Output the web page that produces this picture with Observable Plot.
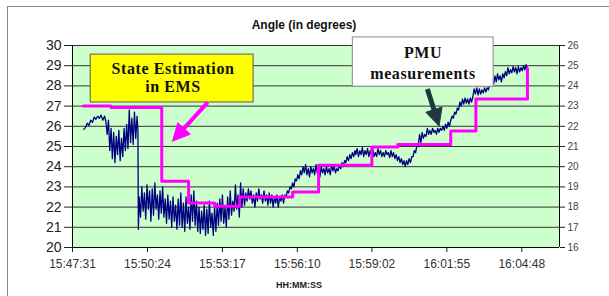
<!DOCTYPE html>
<html><head><meta charset="utf-8">
<script src="https://cdn.jsdelivr.net/npm/d3@7"></script>
<script src="https://cdn.jsdelivr.net/npm/@observablehq/plot@0.6"></script>
<style>
body{margin:0;background:#fff;width:609px;height:296px;overflow:hidden;position:relative;font-family:Arial,"Liberation Sans",sans-serif}
#frame{position:absolute;left:7px;top:6px;width:700px;height:400px;border:1px solid #8a8a8a;box-sizing:border-box}
#chart{position:absolute;left:0;top:0}
</style></head><body><div id="frame"></div><div id="chart"></div>
<script>
const title = "Angle (in degrees)";
const xLabel = "HH:MM:SS";
const tickLabels = ["15:47:31","15:50:24","15:53:17","15:56:10","15:59:02","16:01:55","16:04:48"];
const xEndLabel = "16:06:15";
const leftTicks = [20,21,22,23,24,25,26,27,28,29,30];
const rightTicks = [16,17,18,19,20,21,22,23,24,25,26];
const rightOffset = 4;

// State estimation (EMS) step values: seconds after 15:47:31, angle
const seTimes = [25, 89, 206, 268, 328, 386, 508, 568, 691, 751, 873, 931, 1050];
const seValues = [27.0, 26.93, 23.28, 22.2, 22.04, 22.5, 22.75, 24.07, 24.98, 25.1, 25.77, 27.35, 28.87];

// PMU measurements: [seconds after 15:47:31, angle]
const pmuSamples = [
[26,25.85],[30,25.95],[34,26.15],[38,26.05],[42,26.3],[46,26.2],[50,26.45],[54,26.35],[58,26.5],[62,26.4],[66,26.55],[70,26.3],[74,26.5],[77,26.25],
[80,25.6],[83,26.3],[86,24.8],[89,25.9],[92,24.4],[95,25.7],[98,24.2],[101,25.5],[104,24.6],[107,25.8],[110,24.3],[113,25.4],[116,24.5],[119,25.9],[122,24.8],[125,26.1],[128,24.9],[131,26.8],[134,25.2],[137,26.4],[140,25.1],[143,26.7],[146,25.4],[149,26.5],[151,25.8],
[152,20.9],
[154,22.5],[157,21.5],[160,23.0],[163,21.8],[166,22.7],[169,21.4],[172,23.1],[175,21.9],[178,22.8],[181,21.3],[184,22.9],[187,21.6],[190,23.2],[193,21.9],[196,22.6],[199,21.4],[202,22.8],[205,21.7],[208,23.0],[211,21.5],[214,22.4],[217,21.2],[220,22.6],[223,21.4],[226,22.3],[229,21.0],[232,22.5],[235,21.3],[238,22.1],
[241,20.9],[244,22.4],[247,21.1],[250,22.7],[253,21.0],[256,22.2],[259,20.8],[262,22.5],[265,21.2],[268,22.0],[271,20.9],[274,22.6],[277,21.3],[280,22.8],[283,21.1],[286,22.3],[289,20.8],[292,22.0],[295,20.7],
[298,21.8],[301,20.9],[304,22.1],[307,20.6],[310,21.9],[313,20.7],[316,22.3],[319,21.0],[322,21.7],[325,20.6],[328,22.0],[331,20.8],
[334,22.2],[337,21.1],[340,22.4],[343,21.3],[346,22.6],[349,21.2],[352,22.0],[355,21.0],[358,22.5],[361,21.4],[364,22.8],
[367,21.6],[370,22.3],[373,21.8],[376,23.1],[379,21.9],[382,22.6],[385,21.5],[388,23.2],
[391,22.0],[394,22.9],[397,22.1],[400,22.7],[403,22.3],[406,22.9],[409,22.4],[412,22.8],[415,22.2],[418,22.6],[421,22.0],[424,22.7],[427,22.3],[430,22.9],[433,22.4],[436,22.6],[439,22.2],[442,22.8],[445,22.3],
[448,22.6],[451,22.1],[454,22.7],[457,22.2],[460,22.6],[463,22.0],[466,22.5],[469,22.2],[472,22.6],[475,22.0],[478,22.5],[481,22.3],[484,22.6],[487,22.2],
[490,22.6],[493,22.5],[496,22.8],[499,22.7],[502,23.0],[505,22.9],[508,23.2],[511,23.0],[514,23.4],[517,23.3],[520,23.6],[523,23.4],[526,23.8],
[529,23.6],[532,24.0],[535,23.7],[538,24.1],[541,23.6],[544,23.9],[547,23.5],[550,24.0],[553,23.7],[556,23.9],[559,23.6],[562,24.1],[565,23.7],[568,23.9],[571,23.5],[574,24.0],[577,23.7],[580,23.9],[583,23.6],[586,24.0],[589,23.7],[592,23.9],[595,23.6],[598,24.1],[601,23.8],[604,24.0],[607,23.7],[610,23.9],[613,23.8],[616,24.1],[619,23.9],
[622,24.2],[625,24.0],[628,24.3],[631,24.2],[634,24.5],[637,24.3],[640,24.6],[643,24.4],[646,24.7],[649,24.5],[652,24.8],[654,24.6],
[657,24.9],[660,24.5],[663,24.8],[666,24.6],[669,24.95],[672,24.5],[675,24.8],[678,24.6],[681,24.9],[684,24.5],[687,24.8],[690,24.6],[693,24.9],[696,24.5],[699,24.7],[702,24.5],[705,24.9],[708,24.6],[711,24.8],[714,24.5],[717,24.7],[720,24.5],[723,24.8],[726,24.6],[729,24.7],[732,24.45],[735,24.8],[738,24.5],[741,24.7],[744,24.4],
[747,24.6],[750,24.3],[753,24.5],[756,24.2],[759,24.4],[762,24.1],[765,24.3],[768,24.0],[771,24.3],[774,24.1],[777,24.4],[780,24.2],[783,24.5],
[786,24.5],[789,24.8],[792,24.7],[795,25.1],[798,25.0],[801,25.6],[804,25.2],
[807,25.7],[810,25.4],[813,25.6],[816,25.5],[819,25.9],[822,25.6],[825,25.8],[828,25.6],[831,25.9],[834,25.7],[837,25.8],[840,25.6],[843,25.9],[846,25.7],[849,25.9],[852,25.8],[855,26.0],[858,25.8],[861,26.1],[864,25.9],[867,26.2],[870,26.0],
[873,26.3],[876,26.5],[879,26.4],[882,26.7],[885,26.6],[888,26.9],[891,26.8],[894,27.2],[897,27.0],[900,27.35],[903,27.1],[906,27.4],[909,27.15],[912,27.35],[915,27.1],[918,27.4],[921,27.2],[924,27.45],
[927,27.85],[930,27.6],[933,27.9],[936,27.55],[939,27.85],[942,27.6],[945,27.8],[948,27.65],[951,27.9],[954,27.7],[957,27.9],[960,27.8],[963,28.1],
[966,28.0],[969,28.3],[972,28.1],[975,28.5],[978,28.2],[981,28.6],[984,28.3],[987,28.5],[990,28.2],[993,28.6],[996,28.4],[999,28.7],
[1002,28.5],[1005,28.9],[1008,28.6],[1011,28.8],[1014,28.65],[1017,28.95],[1020,28.7],[1023,28.9],[1026,28.6],[1029,28.95],[1032,28.7],[1035,28.9],[1038,28.75],[1041,29.0],[1044,28.8],[1047,29.05],[1050,28.85]
];

// Callouts (data coordinates)
const boxes = [
  {x1: 42, x2: 418, y1: 29.55, y2: 27.18, fill: "#ffff00", stroke: "#5a5a5a"},
  {x1: 647, x2: 972, y1: 30.4, y2: 27.96, fill: "#ffffff", stroke: "#8a8a8a"}
];
const boxTexts = [
  {x: 232, y: 28.84, text: "State Estimation"},
  {x: 232, y: 27.93, text: "in EMS"},
  {x: 809, y: 29.65, text: "PMU"},
  {x: 809, y: 28.6, text: "measurements"}
];
const arrows = [
  {x1: 312, y1: 27.18, x2: 231, y2: 25.27, color: "#ff00ff", w: 4, head: 17, headW: 17},
  {x1: 819, y1: 27.85, x2: 846, y2: 26.02, color: "#1e3a3f", w: 5, head: 17, headW: 17}
];

const toSec = s => { const [h, m, x] = s.split(":").map(Number); return h * 3600 + m * 60 + x; };
const t0 = toSec(tickLabels[0]);
const tickSecs = tickLabels.map(l => toSec(l) - t0);
const xEnd = toSec(xEndLabel) - t0;
const labelBySec = new Map(tickSecs.map((s, i) => [s, tickLabels[i]]));
const seData = seTimes.map((t, i) => ({t, v: seValues[i]}));

const layout = {
  width: 609, height: 296,
  marginLeft: 72, marginRight: 50, marginTop: 45, marginBottom: 49,
  x: {domain: [0, xEnd]},
  y: {domain: [20, 30]}
};
// first pass: get the scales to build filled arrowheads in pixel space
const probe = Plot.plot({...layout, marks: [Plot.frame()]});
const sx = probe.scale("x"), sy = probe.scale("y");
const shafts = [], heads = [];
arrows.forEach((a, i) => {
  const px1 = sx.apply(a.x1), py1 = sy.apply(a.y1), px2 = sx.apply(a.x2), py2 = sy.apply(a.y2);
  const len = Math.hypot(px2 - px1, py2 - py1);
  const ux = (px2 - px1) / len, uy = (py2 - py1) / len;
  const bx = px2 - ux * a.head, by = py2 - uy * a.head;
  const nx = -uy, ny = ux;
  shafts.push({x1: a.x1, y1: a.y1, x2: sx.invert(bx + ux * 2), y2: sy.invert(by + uy * 2), color: a.color, w: a.w});
  [[px2, py2], [bx + nx * a.headW / 2, by + ny * a.headW / 2], [bx - nx * a.headW / 2, by - ny * a.headW / 2], [px2, py2]]
    .forEach(([px, py]) => heads.push({id: i, x: sx.invert(px), y: sy.invert(py), color: a.color}));
});

const chart = Plot.plot({
  ...layout,
  color: {type: "identity"},
  style: {background: "transparent", fontFamily: "Arial, 'Liberation Sans', sans-serif", color: "#222"},
  marks: [
    Plot.frame({fill: "#ccffcc", stroke: null}),
    Plot.ruleY(leftTicks, {stroke: "#333", strokeWidth: 1}),
    Plot.axisY(leftTicks, {anchor: "left", tickSize: 8, tickPadding: 3, fontSize: 14, label: null}),
    Plot.axisY(rightTicks.map(d => d + rightOffset), {anchor: "right", tickSize: 5, tickPadding: 3, fontSize: 10, fill: "#444", tickFormat: d => d - rightOffset, label: null}),
    Plot.axisX(tickSecs, {tickSize: 5, tickPadding: 7, fontSize: 12, fill: "#333", tickFormat: d => labelBySec.get(d), label: null}),
    Plot.ruleX([0, xEnd], {stroke: "#000"}),
    Plot.ruleY([20], {stroke: "#000"}),
    Plot.line(pmuSamples, {x: d => d[0], y: d => d[1], stroke: "#000080", strokeWidth: 1.3}),
    Plot.line(seData, {x: "t", y: "v", curve: "step-after", stroke: "#ff00ff", strokeWidth: 3}),
    Plot.rect(boxes, {x1: "x1", x2: "x2", y1: "y1", y2: "y2", fill: "fill", stroke: "stroke", strokeWidth: 1}),
    Plot.text(boxTexts, {x: "x", y: "y", text: "text", fontFamily: "'Liberation Serif', 'Times New Roman', serif", fontWeight: "bold", fontSize: 16, fill: "#111"}),
    Plot.link(shafts, {x1: "x1", y1: "y1", x2: "x2", y2: "y2", stroke: "color", strokeWidth: d => d.w}),
    Plot.line(heads, {x: "x", y: "y", z: "id", fill: "color", stroke: "color", strokeWidth: 1, curve: "linear-closed"}),
    Plot.text([title], {frameAnchor: "top", dy: -25, dx: -12, fontWeight: "bold", fontSize: 12, fill: "#111"}),
    Plot.text([xLabel], {frameAnchor: "bottom", dy: 40, dx: -17, fontWeight: "bold", fontSize: 9, fill: "#222"})
  ]
});
d3.select(chart).selectAll("g[font-family*='Serif'] text").style("letter-spacing", "0.6px");
document.getElementById("chart").appendChild(chart);
</script>
</body></html>
